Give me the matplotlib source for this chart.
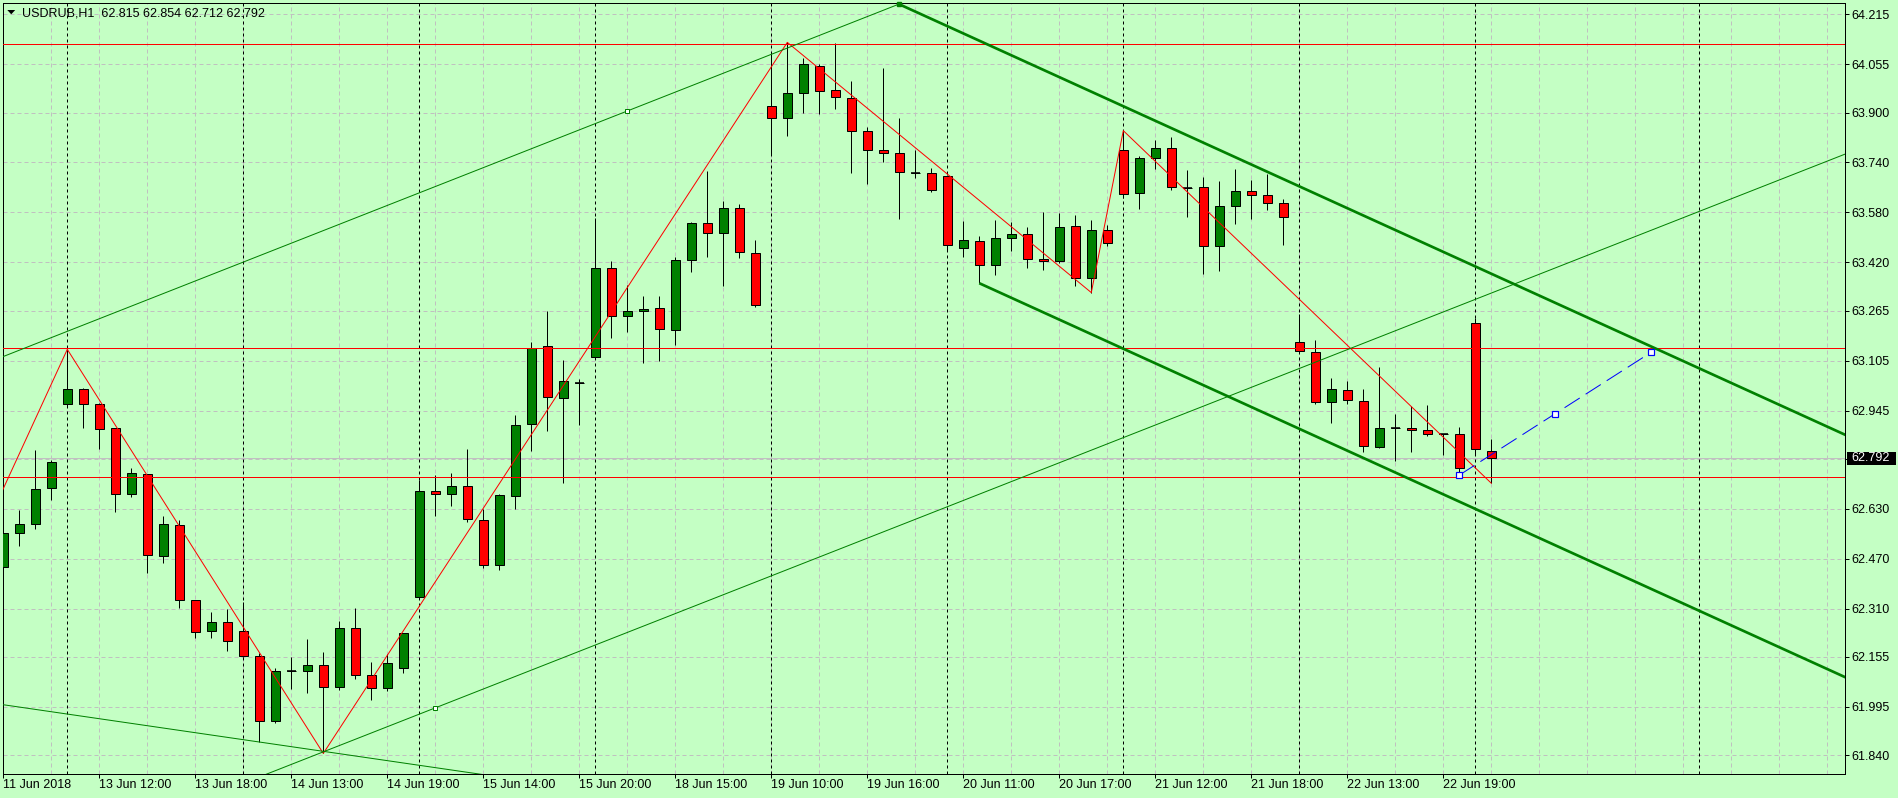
import matplotlib
matplotlib.use("Agg")
import matplotlib.pyplot as plt
import numpy as np
from matplotlib.patches import Rectangle, Polygon
from matplotlib.ticker import FixedLocator
import matplotlib.transforms as mtransforms

plt.rcParams['font.family'] = ['Liberation Sans', 'DejaVu Sans']
plt.rcParams['lines.scale_dashes'] = False

# ---------------- data ----------------
symbol = "USDRUB,H1"
header_ohlc = [62.815, 62.854, 62.712, 62.792]

opens = [62.443, 62.552, 62.580, 62.696, 62.965, 63.013, 62.965, 62.888, 62.677, 62.741,
         62.478, 62.577, 62.337, 62.237, 62.266, 62.237, 62.157, 61.949, 62.111, 62.109,
         62.128, 62.058, 62.247, 62.096, 62.055, 62.119, 62.346, 62.687, 62.677, 62.702,
         62.593, 62.450, 62.670, 62.901, 63.151, 62.984, 63.034, 63.118, 63.401, 63.247,
         63.263, 63.273, 63.202, 63.427, 63.545, 63.513, 63.593, 63.449, 63.920, 63.882,
         63.962, 64.048, 63.971, 63.946, 63.840, 63.779, 63.769, 63.707, 63.705, 63.696,
         63.465, 63.487, 63.410, 63.497, 63.510, 63.430, 63.423, 63.536, 63.369, 63.523,
         63.779, 63.641, 63.753, 63.786, 63.659, 63.661, 63.471, 63.600, 63.648, 63.635,
         63.609, 63.164, 63.132, 62.971, 63.010, 62.975, 62.827, 62.888, 62.888, 62.882,
         62.869, 62.869, 63.225, 62.815]
highs = [62.594, 62.626, 62.818, 62.786, 63.141, 63.016, 62.970, 62.889, 62.761, 62.742,
         62.607, 62.594, 62.338, 62.298, 62.309, 62.330, 62.169, 62.120, 62.155, 62.213,
         62.170, 62.270, 62.311, 62.138, 62.164, 62.232, 62.722, 62.738, 62.746, 62.822,
         62.628, 62.677, 62.930, 63.164, 63.263, 63.107, 63.045, 63.563, 63.424, 63.346,
         63.312, 63.312, 63.436, 63.549, 63.713, 63.617, 63.607, 63.492, 64.087, 64.125,
         64.076, 64.055, 64.124, 64.001, 63.853, 64.042, 63.882, 63.780, 63.721, 63.699,
         63.552, 63.503, 63.556, 63.549, 63.532, 63.580, 63.577, 63.571, 63.555, 63.539,
         63.842, 63.760, 63.811, 63.821, 63.715, 63.693, 63.680, 63.718, 63.683, 63.702,
         63.622, 63.254, 63.170, 63.048, 63.039, 63.013, 63.084, 62.933, 62.959, 62.962,
         62.870, 62.891, 63.241, 62.854]
lows = [62.346, 62.512, 62.565, 62.658, 62.960, 62.890, 62.823, 62.621, 62.669, 62.425,
        62.457, 62.313, 62.217, 62.217, 62.175, 62.155, 61.882, 61.942, 62.053, 62.041,
        61.846, 62.048, 62.084, 62.016, 62.045, 62.103, 62.341, 62.608, 62.640, 62.589,
        62.440, 62.434, 62.629, 62.815, 62.880, 62.714, 62.899, 63.112, 63.178, 63.198,
        63.096, 63.105, 63.156, 63.390, 63.438, 63.344, 63.433, 63.276, 63.766, 63.826,
        63.900, 63.896, 63.912, 63.707, 63.670, 63.743, 63.558, 63.689, 63.645, 63.460,
        63.438, 63.353, 63.378, 63.455, 63.401, 63.395, 63.418, 63.343, 63.323, 63.471,
        63.625, 63.590, 63.718, 63.651, 63.564, 63.382, 63.391, 63.542, 63.558, 63.587,
        63.475, 63.133, 62.965, 62.904, 62.965, 62.811, 62.824, 62.782, 62.811, 62.862,
        62.802, 62.744, 62.805, 62.712]
closes = [62.552, 62.580, 62.693, 62.779, 63.013, 62.965, 62.885, 62.677, 62.744, 62.481,
          62.580, 62.337, 62.234, 62.266, 62.205, 62.157, 61.949, 62.109, 62.111, 62.128,
          62.058, 62.247, 62.096, 62.055, 62.135, 62.231, 62.686, 62.677, 62.702, 62.596,
          62.450, 62.673, 62.898, 63.145, 62.987, 63.039, 63.034, 63.401, 63.247, 63.263,
          63.270, 63.205, 63.427, 63.545, 63.513, 63.593, 63.452, 63.282, 63.882, 63.962,
          64.055, 63.968, 63.949, 63.840, 63.779, 63.769, 63.709, 63.707, 63.651, 63.475,
          63.491, 63.410, 63.497, 63.510, 63.430, 63.423, 63.532, 63.369, 63.523, 63.481,
          63.638, 63.753, 63.786, 63.661, 63.659, 63.471, 63.600, 63.648, 63.635, 63.609,
          63.564, 63.135, 62.971, 63.013, 62.978, 62.830, 62.888, 62.888, 62.882, 62.869,
          62.869, 62.760, 62.821, 62.792]

x_tick_pos = [0, 6, 12, 18, 24, 30, 36, 42, 48, 54, 60, 66, 72, 78, 84, 90]
x_tick_labels = ["11 Jun 2018", "13 Jun 12:00", "13 Jun 18:00", "14 Jun 13:00",
                 "14 Jun 19:00", "15 Jun 14:00", "15 Jun 20:00", "18 Jun 15:00",
                 "19 Jun 10:00", "19 Jun 16:00", "20 Jun 11:00", "20 Jun 17:00",
                 "21 Jun 12:00", "21 Jun 18:00", "22 Jun 13:00", "22 Jun 19:00"]
separators = [4, 15, 26, 37, 48, 59, 70, 81, 92, 106]
y_tick_values = [64.215, 64.055, 63.900, 63.740, 63.580, 63.420, 63.265, 63.105,
                 62.945, 62.790, 62.630, 62.470, 62.310, 62.155, 61.995, 61.840]
y_tick_labels = ["%.3f" % v for v in y_tick_values]

red_levels = [64.120, 63.145, 62.731]
bid_price = 62.792

zigzag_idx = [4, 20, 49, 68, 70, 93]
zigzag_kind = ["H", "L", "H", "L", "H", "L"]
zigzag_lead = (-3, 62.360)

thin_channel_lower = ([20, 27], [61.851, 61.992])
thin_channel_upper = ([39, 56], [63.905, 64.248])
thick_channel_upper = ([56, 103], [64.247, 63.150])
thick_channel_lower = ([61, 115], [63.353, 62.093])
thin_descending = ([0, 30], [62.002, 61.778])
blue_projection = ([91, 97, 103], [62.738, 62.935, 63.132])

# ---------------- style ----------------
W, H, DPI = 1898, 798, 100
PX = 72.0 / DPI
BG = '#C4FFC4'
GRID = '#C0C0C0'
UP = '#008000'
DN = '#FF0000'
LINE_GREEN = '#008000'

fig = plt.figure(figsize=(W / DPI, H / DPI), dpi=DPI, facecolor=BG)
L_PX, R_PX, T_PX, B_PX = 2.7, 1845.0, 2.7, 774.0
ax = fig.add_axes([L_PX / W, 1 - B_PX / H, (R_PX - L_PX) / W, (B_PX - T_PX) / H])
ax.set_facecolor(BG)

XMIN, XMAX = -0.0375, 115.106
YMIN, YMAX = 61.7800, 64.2521
ax.set_xlim(XMIN, XMAX)
ax.set_ylim(YMIN, YMAX)

for s in ax.spines.values():
    s.set_color('black')
    s.set_linewidth(PX)

# ticks
ax.yaxis.tick_right()
ax.set_yticks(y_tick_values, y_tick_labels)
ax.tick_params(axis='y', which='major', length=4 * PX, width=PX, pad=2.5 * PX,
               labelsize=9, colors='black')
ax.set_xticks(x_tick_pos, x_tick_labels)
for lbl in ax.get_xticklabels():
    lbl.set_horizontalalignment('left')
ax.tick_params(axis='x', which='major', length=4 * PX, width=PX, pad=1.5 * PX,
               labelsize=9, colors='black')
ax.xaxis.set_minor_locator(FixedLocator(np.arange(0, 116, 3)))
ax.tick_params(axis='x', which='minor', length=0)

gridstyle = dict(color=GRID, linestyle=(0, (4 * PX, 3 * PX)), linewidth=PX)
ax.xaxis.grid(True, which='both', **gridstyle)
ax.yaxis.grid(True, which='major', **gridstyle)
ax.set_axisbelow(True)

# period separators
for s in separators:
    ax.axvline(s, color='black', linestyle=(0, (3 * PX, 3 * PX)), linewidth=PX, zorder=1)

# bid line
ax.axhline(bid_price, color=GRID, linewidth=PX, zorder=1.5)

# candles
x = np.arange(len(opens))
o = np.array(opens); c = np.array(closes); hi = np.array(highs); lo = np.array(lows)
ax.vlines(x, lo, hi, color='black', linewidth=PX, zorder=2)
colors = np.where(c > o, UP, DN)
bw = 0.58
ax.bar(x, c - o, bottom=o, width=bw, color=colors, edgecolor='black',
       linewidth=PX, zorder=3)
doji = np.isclose(o, c)
ax.hlines(o[doji], x[doji] - bw / 2, x[doji] + bw / 2, color='black',
          linewidth=1.6 * PX, zorder=3)

# horizontal red levels
for lv in red_levels:
    ax.axhline(lv, color=DN, linewidth=PX, zorder=4)

# zigzag
zz_x = [zigzag_lead[0]] + zigzag_idx
zz_y = [zigzag_lead[1]] + [highs[i] if k == "H" else lows[i]
                           for i, k in zip(zigzag_idx, zigzag_kind)]
ax.plot(zz_x, zz_y, color=DN, linewidth=PX, zorder=4)


def extend(pts, both=True):
    (x0, x1), (y0, y1) = pts[0][:2], pts[1][:2]
    k = (y1 - y0) / (x1 - x0)
    xa = XMIN - 5 if both else x0
    xb = XMAX + 5
    return [xa, xb], [y0 + k * (xa - x0), y0 + k * (xb - x0)]


for line in (thin_channel_lower, thin_channel_upper, thin_descending):
    xs, ys = extend(line, both=True)
    ax.plot(xs, ys, color=LINE_GREEN, linewidth=PX, zorder=4)
for line in (thick_channel_upper, thick_channel_lower):
    xs, ys = extend(line, both=False)
    ax.plot(xs, ys, color=LINE_GREEN, linewidth=2.7 * PX, zorder=4,
            solid_capstyle='butt')

# channel handles
ax.plot([thin_channel_lower[0][1], thin_channel_upper[0][0]],
        [thin_channel_lower[1][1], thin_channel_upper[1][0]],
        linestyle='none', marker='s', markersize=5 * PX, markerfacecolor='white',
        markeredgecolor=LINE_GREEN, markeredgewidth=PX, zorder=5)
ax.plot([thick_channel_upper[0][0]], [thick_channel_upper[1][0]], linestyle='none',
        marker='s', markersize=4 * PX, color=LINE_GREEN, zorder=5, clip_on=False)

# blue projection
ax.plot(blue_projection[0], blue_projection[1], color='#0000FF', linewidth=PX,
        linestyle=(0, (18 * PX, 7 * PX)), zorder=5)
ax.plot(blue_projection[0], blue_projection[1], linestyle='none', marker='s',
        markersize=6 * PX, markerfacecolor='white', markeredgecolor='#0000FF',
        markeredgewidth=1.2 * PX, zorder=6)

# current price tag on the right axis
blend = mtransforms.blended_transform_factory(ax.transAxes, ax.transData)
ax_w = R_PX - L_PX
tag_h = 12.6 / 312.0
ax.add_patch(Rectangle(((1847 - L_PX) / ax_w, bid_price - tag_h / 2),
                       (1896 - 1847) / ax_w, tag_h, transform=blend,
                       facecolor='black', edgecolor='none', clip_on=False, zorder=10))
ax.text((1851.7 - L_PX) / ax_w, bid_price, "%.3f" % bid_price, transform=blend,
        color='white', fontsize=9, va='center', ha='left', clip_on=False, zorder=11)

# header
fig.add_artist(Polygon([[7.3 / W, 1 - 10 / H], [15.2 / W, 1 - 10 / H],
                        [11.25 / W, 1 - 14.3 / H]], closed=True,
                       transform=fig.transFigure, facecolor='black', edgecolor='none',
                       zorder=12))
header = symbol + "  " + " ".join("%.3f" % v for v in header_ohlc)
fig.text(21.7 / W, 1 - 16.7 / H, header, fontsize=9, va='baseline', ha='left',
         color='black', zorder=12)

fig.savefig('out.png', dpi=DPI, facecolor=BG)
